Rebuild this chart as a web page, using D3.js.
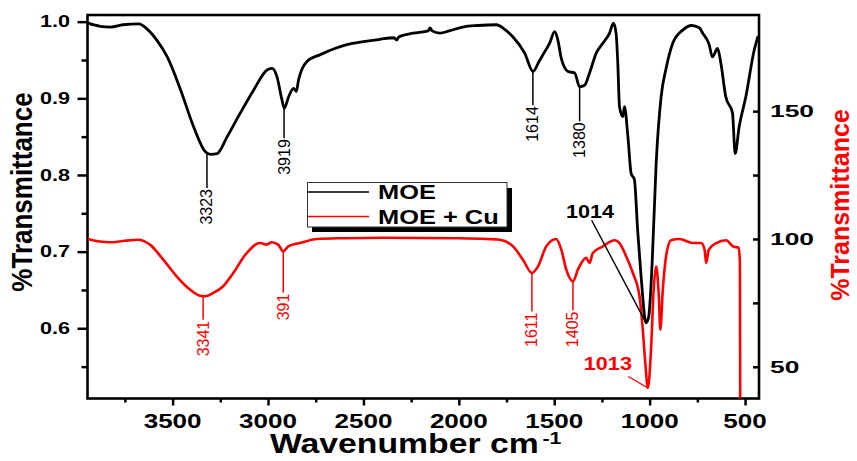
<!DOCTYPE html>
<html><head><meta charset="utf-8">
<script src="https://cdn.jsdelivr.net/npm/d3@7"></script>
<style>
html,body{margin:0;padding:0;background:#fff;}
svg{display:block;}
text{font-family:"Liberation Sans",Arial,sans-serif;}
</style></head>
<body>
<svg id="chart" width="857" height="461"></svg>
<script>
// ---------- data ----------
const moeWn = [3944,3880,3824,3760,3678,3632,3580,3528,3458,3390,3327,3300,3266,3214,3145,3075,3005,2979,2953,2927,2915,2892,2866,2852,2840,2796,2726,2650,2587,2500,2413,2340,2325,2315,2240,2160,2151,2140,2099,2050,1979,1900,1803,1760,1716,1655,1611,1580,1559,1524,1498,1481,1463,1428,1393,1367,1341,1315,1280,1245,1210,1190,1176,1167,1158,1141,1132,1114,1097,1080,1063,1045,1019,1005,987,966,940,914,879,827,780,740,722,688,671,644,627,601,566,552,531,496,452,432];
const moeT = [0.998,0.994,0.993,0.996,0.997,0.990,0.975,0.954,0.911,0.863,0.830,0.827,0.828,0.850,0.881,0.911,0.937,0.939,0.928,0.898,0.887,0.902,0.913,0.909,0.924,0.948,0.957,0.965,0.970,0.974,0.977,0.979,0.976,0.980,0.985,0.988,0.992,0.988,0.985,0.988,0.993,0.995,0.996,0.990,0.980,0.959,0.935,0.948,0.957,0.972,0.987,0.976,0.952,0.935,0.933,0.915,0.917,0.933,0.959,0.972,0.985,0.998,0.985,0.946,0.889,0.876,0.889,0.850,0.802,0.794,0.728,0.668,0.607,0.615,0.685,0.815,0.902,0.939,0.972,0.989,0.995,0.992,0.985,0.970,0.954,0.965,0.946,0.902,0.881,0.828,0.863,0.902,0.963,0.981];

const cuWn = [3944,3881,3829,3750,3682,3619,3549,3479,3409,3357,3330,3287,3235,3182,3112,3042,3007,2981,2947,2920,2894,2833,2745,2600,2400,2200,2000,1850,1785,1716,1664,1617,1585,1542,1490,1463,1437,1402,1376,1333,1315,1298,1245,1184,1158,1123,1088,1053,1036,1023,1009,992,979,966,952,944,931,914,888,844,774,730,712,704,690,651,599,564,533,527,525];
const cuT = [100,99.0,98.7,99.3,99.7,97.8,91.9,85.4,80.2,77.8,77.6,78.9,81.5,86.7,94.5,98.4,97.8,98.7,97.8,95.1,97.1,98.4,100,100.3,100.5,100.4,100.3,100.0,99.7,97.1,91.9,86.7,89.3,97.1,100,95.8,88,83.4,88,92.6,90.6,94.5,97.1,99.5,98.4,93.2,86.7,77.5,64.5,51.5,41.7,58,80.2,89.3,77.5,64.5,80.2,93.2,99.5,100,98.4,98.4,95.8,90.6,95.8,98.4,99.5,97.1,96.5,90.6,20];

const xTicks = [3500,3000,2500,2000,1500,1000,500];
const xMinor = [3750,3250,2750,2250,1750,1250,750];
const yLeftTicks = [0.6,0.7,0.8,0.9,1.0];
const yLeftMinor = [0.55,0.65,0.75,0.85,0.95];
const yRightTicks = [50,100,150];
const yRightMinor = [75,125];

const seriesNames = ["MOE","MOE + Cu"];
const seriesColors = ["#000000","#ff0000"];

// peak annotations (wavenumber, value at peak, value where the leader ends, label)
const moePeakWn = [3320,2916,1612,1367];
const moePeakVal = [0.828,0.887,0.935,0.915];
const moePeakEnd = [0.783,0.848,0.891,0.870];
const moePeakLbl = ["3323","3919","1614","1380"];
const cuPeakWn = [3340,2920,1617,1402];
const cuPeakVal = [77.6,95.1,86.7,83.4];
const cuPeakEnd = [68.4,79.0,71.6,72.0];
const cuPeakLbl = ["3341","391","1611","1405"];

// callouts: label text position, leader start, leader target (data units)
const moeCallout = {label:"1014", text:[1313,0.752], from:[1304,0.741], to:[1019,0.607]};
const cuCallout = {label:"1013", text:[1219,51.2], from:[1112,46.2], to:[1009,41.7]};

// ---------- layout ----------
const L = 87.5, R = 759, T = 15, B = 398.5;
const svg = d3.select("#chart");
const x = d3.scaleLinear().domain([3946,427]).range([L,R]);
const yL = d3.scaleLinear().domain([0.5084,1.0087]).range([B,T]);
const yR = d3.scaleLinear().domain([37.6,187.6]).range([B,T]);

svg.append("defs").append("clipPath").attr("id","clip")
  .append("rect").attr("x",L).attr("y",T).attr("width",R-L).attr("height",B-T);

function stext(g, str, tx, ty, opts){
  const t = g.append("text")
    .attr("transform",`translate(${tx},${ty}) scale(${opts.sx||1},1) rotate(${opts.rot||0})`)
    .attr("text-anchor",opts.anchor||"middle")
    .attr("font-size",opts.size)
    .attr("font-weight",opts.weight||"bold")
    .attr("fill",opts.fill||"#000")
    .text(str);
  if(opts.dy) t.attr("dy",opts.dy);
  return t;
}

// ---------- axes ----------
// bottom
const gx = svg.append("g").attr("transform",`translate(0,${B})`)
  .call(d3.axisBottom(x).tickValues(xTicks).tickSize(7).tickFormat(""));
gx.select(".domain").remove();
gx.selectAll("line").attr("stroke","#000").attr("stroke-width",2.5);
const gxm = svg.append("g").attr("transform",`translate(0,${B})`)
  .call(d3.axisBottom(x).tickValues(xMinor).tickSize(4).tickFormat(""));
gxm.select(".domain").remove();
gxm.selectAll("line").attr("stroke","#000").attr("stroke-width",2.5);
xTicks.forEach(v=>stext(svg, String(v), x(v), 428, {size:21, sx:1.24}));

// left
const gy = svg.append("g").attr("transform",`translate(${L},0)`)
  .call(d3.axisLeft(yL).tickValues(yLeftTicks).tickSize(10).tickFormat(""));
gy.select(".domain").remove();
gy.selectAll("line").attr("stroke","#000").attr("stroke-width",2.5);
const gym = svg.append("g").attr("transform",`translate(${L},0)`)
  .call(d3.axisLeft(yL).tickValues(yLeftMinor).tickSize(6).tickFormat(""));
gym.select(".domain").remove();
gym.selectAll("line").attr("stroke","#000").attr("stroke-width",2.5);
yLeftTicks.forEach(v=>stext(svg, d3.format(".1f")(v), 70, yL(v), {size:16, sx:1.35, anchor:"end", dy:"0.36em"}));

// right (inward ticks)
const gr = svg.append("g").attr("transform",`translate(${R},0)`)
  .call(d3.axisRight(yR).tickValues(yRightTicks.concat(yRightMinor)).tickSize(-6).tickFormat(""));
gr.select(".domain").remove();
gr.selectAll("line").attr("stroke","#000").attr("stroke-width",2.5);
yRightTicks.forEach(v=>stext(svg, String(v), 770, yR(v), {size:16.5, sx:1.6, anchor:"start", dy:"0.36em"}));

// frame
svg.append("rect").attr("x",L).attr("y",T).attr("width",R-L).attr("height",B-T)
  .attr("fill","none").attr("stroke","#000").attr("stroke-width",2.6);

// axis titles
stext(svg, "%Transmittance", 32, 192, {size:26, sx:1.15, rot:-90});
stext(svg, "%Transmittance", 849, 205, {size:25, sx:1.05, rot:-90, fill:"#ff0000"});
const xt = svg.append("text").attr("transform","translate(270,453) scale(1.25,1)")
  .attr("text-anchor","start").attr("font-size",27).attr("font-weight","bold");
xt.append("tspan").text("Wavenumber cm");
xt.append("tspan").attr("font-size",17).attr("dx",3).attr("dy",-9).text("-1");

// ---------- curves ----------
const plot = svg.append("g").attr("clip-path","url(#clip)");
const moeData = moeWn.map((w,i)=>[w,moeT[i]]);
const cuData = cuWn.map((w,i)=>[w,cuT[i]]);
plot.append("path").datum(cuData)
  .attr("d", d3.line().x(d=>x(d[0])).y(d=>yR(d[1])).curve(d3.curveMonotoneX))
  .attr("fill","none").attr("stroke",seriesColors[1]).attr("stroke-width",2.6).attr("stroke-linejoin","round");
plot.append("path").datum(moeData)
  .attr("d", d3.line().x(d=>x(d[0])).y(d=>yL(d[1])).curve(d3.curveMonotoneX))
  .attr("fill","none").attr("stroke",seriesColors[0]).attr("stroke-width",2.8).attr("stroke-linejoin","round");

// ---------- peak labels ----------
function peaks(wn, val, end, lbl, ys, color){
  wn.forEach((w,i)=>{
    svg.append("line").attr("x1",x(w)).attr("x2",x(w))
      .attr("y1",ys(val[i])).attr("y2",ys(end[i]))
      .attr("stroke",color).attr("stroke-width",1.5);
    stext(svg, lbl[i], x(w)+5.5, ys(end[i])+1, {size:16, weight:"normal", rot:-90, anchor:"end", fill:color});
  });
}
peaks(moePeakWn, moePeakVal, moePeakEnd, moePeakLbl, yL, "#000");
peaks(cuPeakWn, cuPeakVal, cuPeakEnd, cuPeakLbl, yR, "#ff0000");

function callout(c, ys, color){
  svg.append("line").attr("x1",x(c.from[0])).attr("y1",ys(c.from[1]))
    .attr("x2",x(c.to[0])).attr("y2",ys(c.to[1]))
    .attr("stroke",color).attr("stroke-width",1.4);
  stext(svg, c.label, x(c.text[0]), ys(c.text[1]), {size:18, sx:1.2, dy:"0.36em", fill:color});
}
callout(moeCallout, yL, "#000");
callout(cuCallout, yR, "#ff0000");

// ---------- legend ----------
const lg = svg.append("g");
lg.append("rect").attr("x",312).attr("y",188).attr("width",200).attr("height",44).attr("fill","#000");
lg.append("rect").attr("x",307.5).attr("y",182.5).attr("width",199.5).attr("height",44.5)
  .attr("fill","#fff").attr("stroke","#333").attr("stroke-width",1);
seriesNames.forEach((n,i)=>{
  const yy = 192 + i*24.5;
  lg.append("line").attr("x1",308).attr("x2",369).attr("y1",yy).attr("y2",yy)
    .attr("stroke",seriesColors[i]).attr("stroke-width",1.6);
  stext(lg, n, 378, yy, {size:20, sx:1.27, anchor:"start", dy:"0.36em"});
});
</script>
</body></html>
